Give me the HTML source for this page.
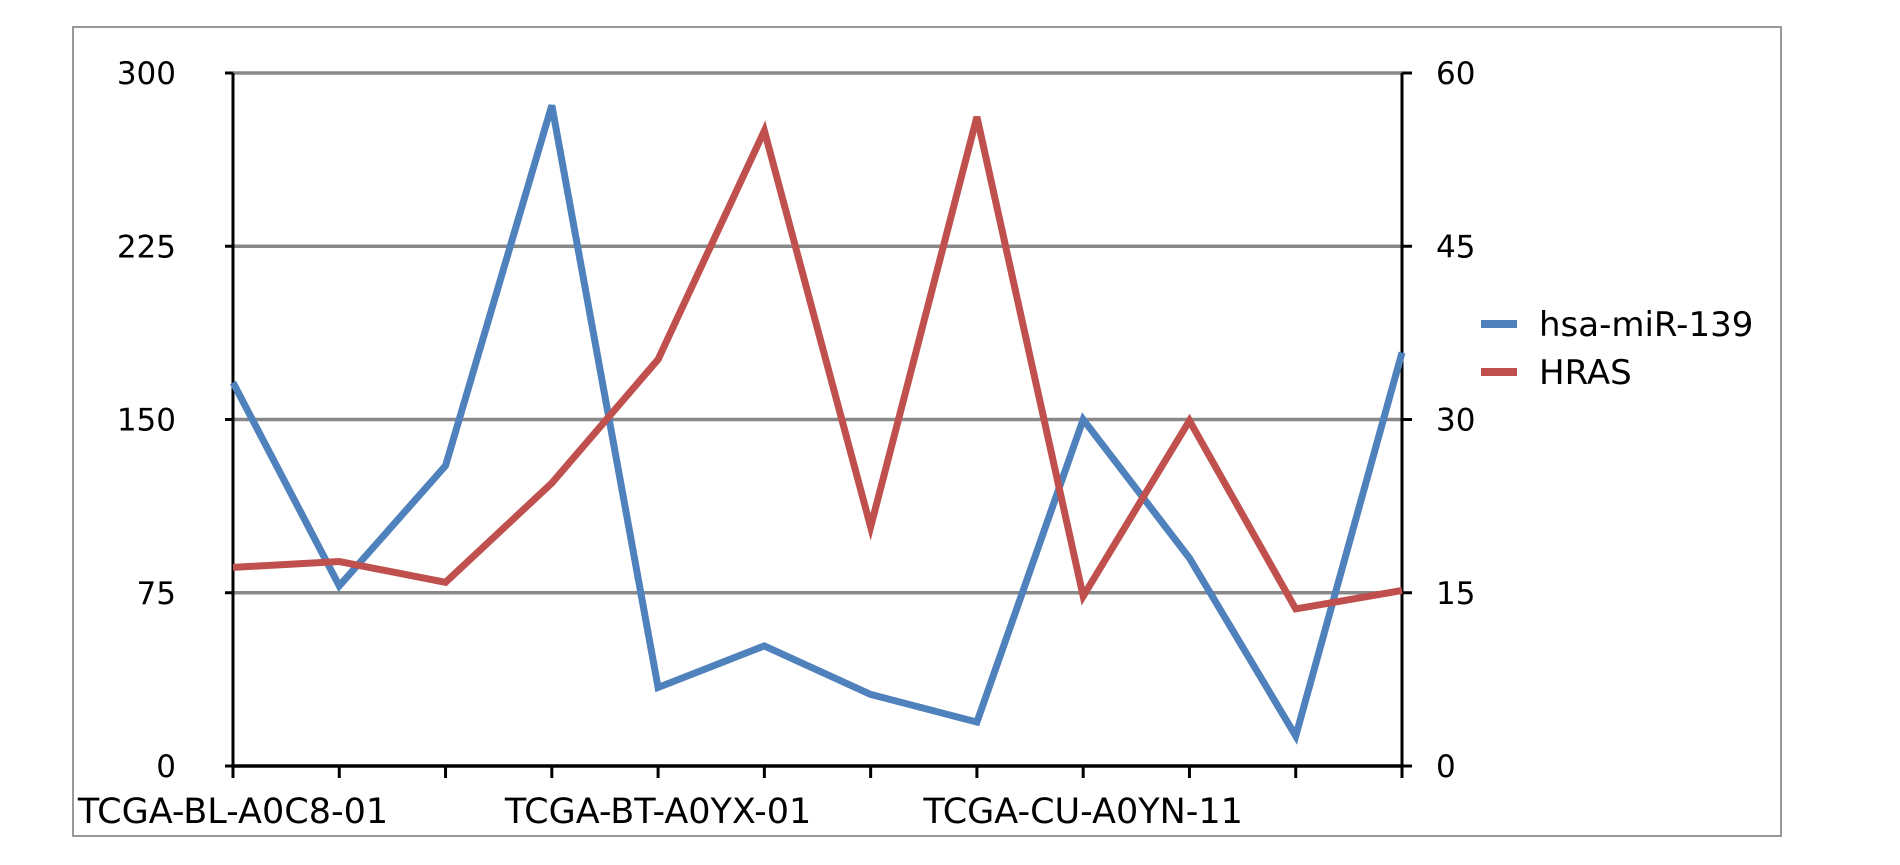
<!DOCTYPE html>
<html><head><meta charset="utf-8"><style>
html,body{margin:0;padding:0;background:#fff;}
svg text{font-family:"DejaVu Sans","Liberation Sans",sans-serif;fill:#000;}
</style></head><body>
<svg width="1900" height="860" xmlns="http://www.w3.org/2000/svg">
<rect x="73" y="27" width="1708" height="809" fill="#fff" stroke="#999" stroke-width="2"/>
<g id="grid"></g><g id="axes"></g><g id="series"></g><g id="labels"></g>
<g>
<g><rect x="1481" y="320" width="36" height="8" fill="#4f81bd"/><text x="1539" y="336" font-size="34">hsa-miR-139</text></g>
<g><rect x="1481" y="368" width="36" height="8" fill="#c0504d"/><text x="1539" y="384" font-size="34">HRAS</text></g>
</g>
</svg>
<script>
const categories=["TCGA-BL-A0C8-01","S2","S3","S4","TCGA-BT-A0YX-01","S6","S7","S8","TCGA-CU-A0YN-11","S10","S11","S12"];
const mirValues=[166,78,130,286,34,52,31,19,150,90,13,179];
const hrasValues=[17.2,17.7,15.9,24.5,35.2,55,20.7,56.2,14.7,29.9,13.6,15.2];
const leftTicks=[0,75,150,225,300];
const rightTicks=[0,15,30,45,60];
const NS="http://www.w3.org/2000/svg";
const X0=233,X1=1402,Y0=766,Y1=73;
const xs=i=>X0+(X1-X0)*i/(categories.length-1);
const yl=v=>Y0-(Y0-Y1)*v/300;
const yr=v=>Y0-(Y0-Y1)*v/60;
function mk(tag,attrs,parent){const e=document.createElementNS(NS,tag);for(const k in attrs)e.setAttribute(k,attrs[k]);document.getElementById(parent).appendChild(e);return e;}
leftTicks.forEach((t,i)=>{
 if(t>0){const g=mk('line',{x1:X0,x2:X1,y1:yl(t),y2:yl(t),stroke:'#888','stroke-width':3.5},'grid');
 
 }
 const a=mk('text',{x:176,y:yl(t)+11,'font-size':31,'text-anchor':'end'},'labels');a.textContent=t;
 
 
 const b=mk('text',{x:1436,y:yr(rightTicks[i])+11,'font-size':31},'labels');b.textContent=rightTicks[i];
 
 
 mk('line',{x1:X0-8,x2:X0,y1:yl(t),y2:yl(t),stroke:'#000','stroke-width':3},'axes');
 mk('line',{x1:X1,x2:X1+10,y1:yl(t),y2:yl(t),stroke:'#000','stroke-width':3},'axes');
});
let ax=mk('line',{x1:X0,x2:X0,y1:Y1,y2:Y0,stroke:'#000','stroke-width':3},'axes');


ax=mk('line',{x1:X1,x2:X1,y1:Y1,y2:Y0,stroke:'#000','stroke-width':3},'axes');


ax=mk('line',{x1:X0,x2:X1,y1:Y0,y2:Y0,stroke:'#000','stroke-width':3.5},'axes');


categories.forEach((c,i)=>{
 mk('line',{x1:xs(i),x2:xs(i),y1:Y0,y2:Y0+12,stroke:'#000','stroke-width':3},'axes');
 if(i%4===0){const t=mk('text',{x:xs(i),y:823,'font-size':35,'text-anchor':'middle'},'labels');t.textContent=c;
 
 }
});
const p1=mk('polyline',{points:mirValues.map((v,i)=>xs(i)+','+yl(v)).join(' '),fill:'none',stroke:'#4f81bd','stroke-width':7,'stroke-linejoin':'miter'},'series');


const p2=mk('polyline',{points:hrasValues.map((v,i)=>xs(i)+','+yr(v)).join(' '),fill:'none',stroke:'#c0504d','stroke-width':7,'stroke-linejoin':'miter'},'series');


</script>
</body></html>
